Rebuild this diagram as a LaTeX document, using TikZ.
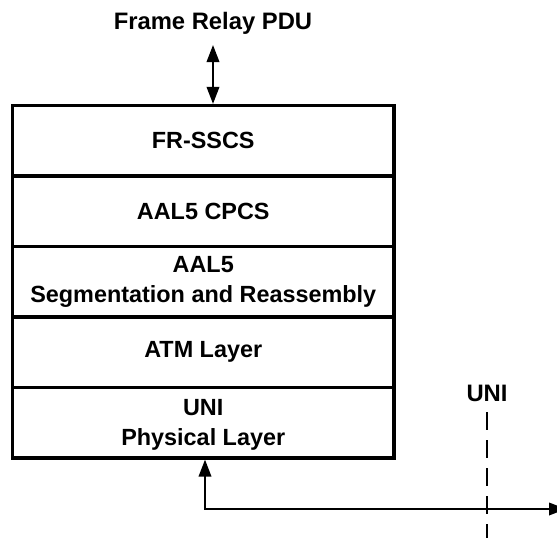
\documentclass[tikz,border=0pt]{standalone}
\usepackage{fontspec}
\setmainfont{Liberation Sans}
\usetikzlibrary{arrows.meta}
\begin{document}
\begin{tikzpicture}[x=1pt,y=1pt,
  layer/.style={draw,line width=3.2pt,minimum width=381.5pt,minimum height=70.5pt,
    inner sep=0pt,align=center,font=\fontsize{23.4}{30}\selectfont\bfseries},
  lbl/.style={inner sep=0pt,font=\fontsize{23.8}{30}\selectfont\bfseries},
  conn/.style={line width=2pt},
  tip/.style={-{Triangle[length=17pt,width=12.5pt]}}]
\clip (0,0) rectangle (557,-538);
\node[layer] (l1) at (203.25,-140.75) {FR-SSCS};
\node[layer] (l2) at (203.25,-211.25) {AAL5 CPCS};
\node[layer] (l3) at (203.25,-281.75) {AAL5\\Segmentation and Reassembly};
\node[layer] (l4) at (203.25,-352.25) {ATM Layer};
\node[layer] (l5) at (203.25,-422.75) {\strut UNI\\Physical Layer};
\node[lbl] (pdu) at (213,-23) {Frame Relay PDU};
\coordinate (ptop) at (213,-45);
\draw[conn,{Triangle[length=17pt,width=12.5pt]}-{Triangle[length=17pt,width=12.5pt]}] (ptop) -- (ptop |- l1.north);
\node[lbl] (uni) at (487,-393) {UNI};
\coordinate (dtop) at (487,-412);
\coordinate (dbot) at (487,-545);
\draw[line width=2pt,dash pattern=on 18pt off 10pt] (dtop) -- (dbot);
\coordinate (corner) at (205,-509);
\coordinate (rend) at (566,-509);
\draw[conn,{Triangle[length=17pt,width=12.5pt]}-{Triangle[length=17pt,width=12.5pt]}] (rend) -- (corner) -- (corner |- l5.south);
\end{tikzpicture}
\end{document}
